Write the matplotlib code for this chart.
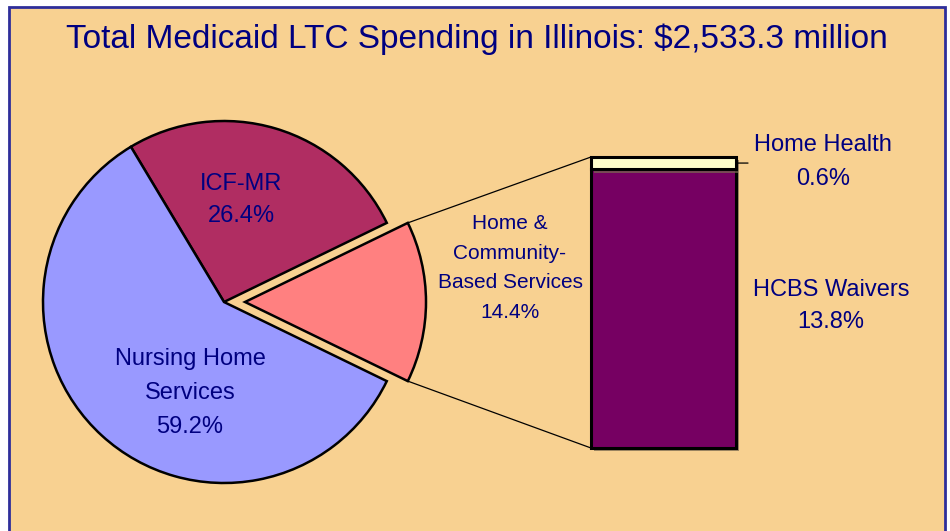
"""
Medicaid LTC spending in Illinois: pie of spending with the
home & community-based slice broken out as a stacked bar.
"""

### Import modules
import math
import matplotlib
matplotlib.use('Agg')
import matplotlib.pyplot as plt
import matplotlib.patheffects as pe
from matplotlib.patches import Rectangle, ConnectionPatch

### Data
title = 'Total Medicaid LTC Spending in Illinois: $2,533.3 million'
slices = ['Home &\nCommunity-\nBased Services', 'ICF-MR', 'Nursing Home\nServices']
shares = [14.4, 26.4, 59.2]
parts = ['HCBS Waivers', 'Home Health']
part_shares = [13.8, 0.6]

### Style
plt.rcParams['font.family'] = ['Liberation Sans', 'DejaVu Sans']
navy = '#000080'
bg = '#F8D191'
pie_colors = ['#FF8080', '#B02D62', '#9999FF']
bar_colors = ['#760062', '#FFFFCC']

W, H = 950, 531
fig = plt.figure(figsize=(W/100, H/100), dpi=100)
fig.patch.set_facecolor('white')

### Main axes in pixel units (y up)
ax = fig.add_axes([0, 0, 1, 1])
ax.add_patch(Rectangle((8.5, -10), 936.5, H - 6.5 + 10, facecolor=bg,
                       edgecolor='#2E2E9A', linewidth=2, zorder=0))

wedges, _ = ax.pie(shares, colors=pie_colors, startangle=-shares[0]*3.6/2,
                   counterclock=True, explode=[21, 0, 0], radius=181,
                   center=(224, H - 302), frame=True,
                   wedgeprops=dict(edgecolor='black', linewidth=1.8))
ax.set_xlim(0, W)
ax.set_ylim(0, H)
ax.axis('off')

ax.text(477, H - 39, title, fontsize=24, color=navy, ha='center', va='center')

### Pie labels
ax.text(241, H - 200, '%s\n%.1f%%' % (slices[1], shares[1]), fontsize=17,
        color=navy, ha='center', va='center', linespacing=1.63)
ax.text(190, H - 393, '%s\n%.1f%%' % (slices[2], shares[2]), fontsize=17,
        color=navy, ha='center', va='center', linespacing=1.68)
ax.text(510, H - 268, '%s\n%.1f%%' % (slices[0], shares[0]), fontsize=15,
        color=navy, ha='center', va='center', linespacing=1.7)

### Stacked bar for the HCBS breakdown
ax2 = fig.add_axes([591/W, (H - 448)/H, (736 - 591)/W, (448 - 157)/H])
shadow = [pe.SimplePatchShadow(offset=(2.5, -2.5), shadow_rgbFace='#7a6a50',
                               alpha=0.7), pe.Normal()]
bottom = 0
for val, col in zip(part_shares, bar_colors):
    b = ax2.bar(0, val, bottom=bottom, width=1, color=col, edgecolor='black',
                linewidth=2.2, clip_on=False)
    b[0].set_path_effects(shadow)
    bottom += val
ax2.set_xlim(-0.5, 0.5)
ax2.set_ylim(0, sum(part_shares))
ax2.axis('off')

### Lines joining slice to bar
hc = wedges[0]
cx, cy = hc.center
for th, yb in [(hc.theta2, sum(part_shares)), (hc.theta1, 0)]:
    p = (cx + hc.r*math.cos(math.radians(th)), cy + hc.r*math.sin(math.radians(th)))
    con = ConnectionPatch(xyA=p, coordsA=ax.transData, xyB=(-0.5, yb),
                          coordsB=ax2.transData, color='black', linewidth=0.9)
    fig.add_artist(con)

### Bar labels
ax2.annotate('', xy=(0.5, part_shares[0] + part_shares[1]/2), xytext=(12, 0),
             textcoords='offset pixels',
             arrowprops=dict(arrowstyle='-', color='black', lw=0.9,
                             shrinkA=0, shrinkB=0))
ax.text(823, H - 162, '%s\n%.1f%%' % (parts[1], part_shares[1]), fontsize=17,
        color=navy, ha='center', va='center', linespacing=1.68)
ax.text(831, H - 306, '%s\n%.1f%%' % (parts[0], part_shares[0]), fontsize=17,
        color=navy, ha='center', va='center', linespacing=1.6)

### Save figure
plt.savefig('out.png', dpi=100)
